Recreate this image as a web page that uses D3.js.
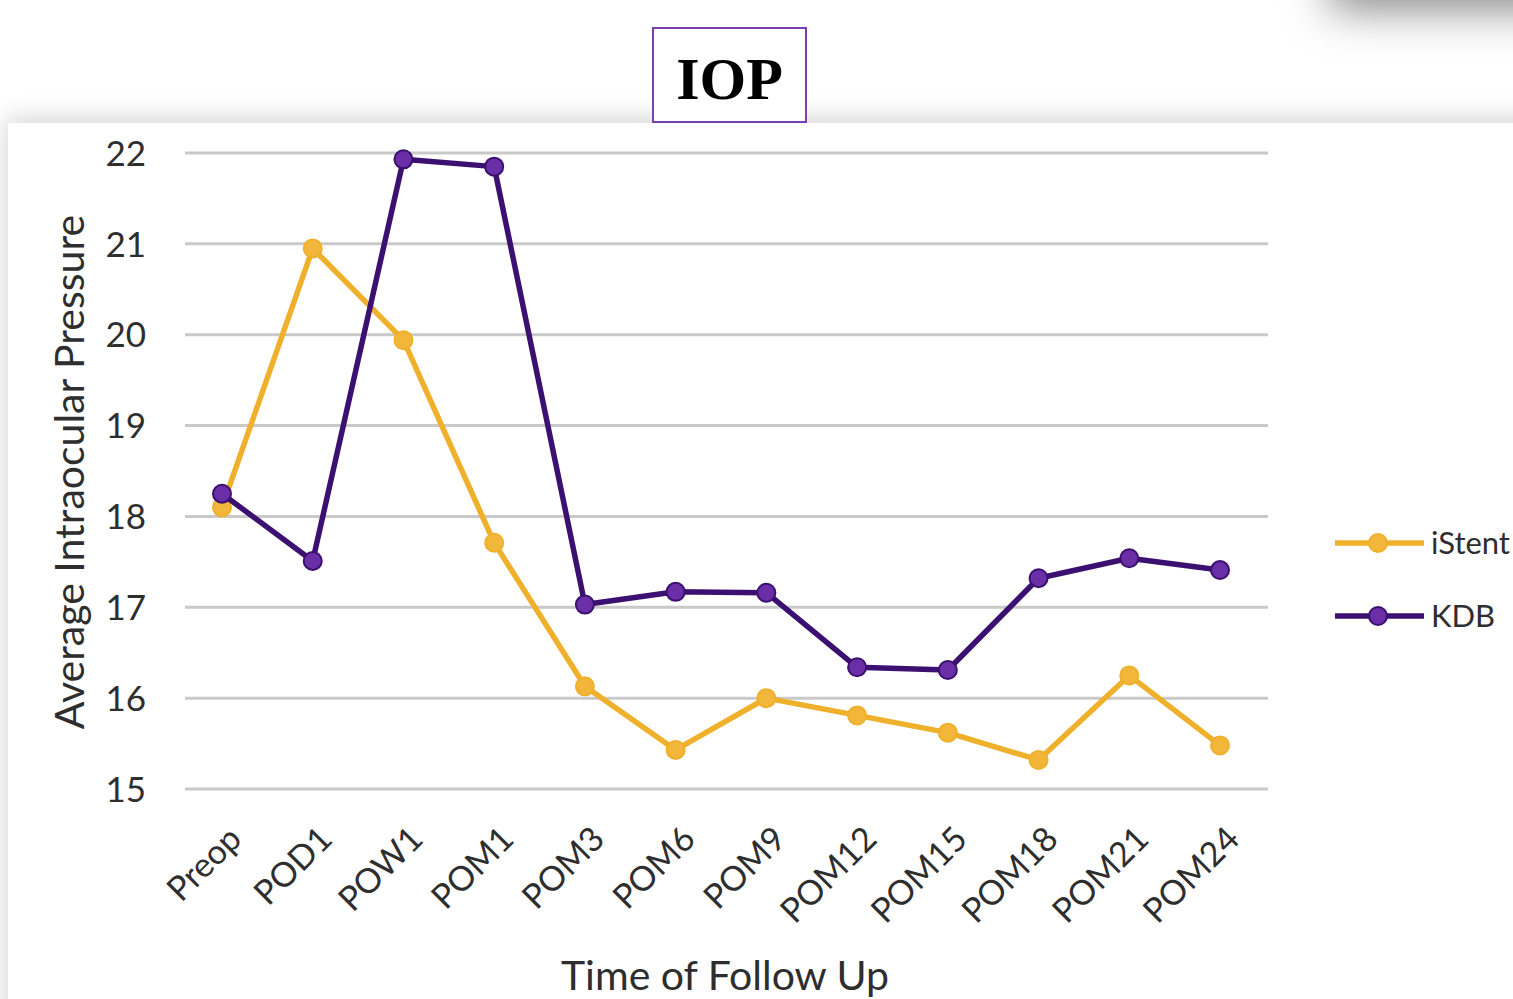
<!DOCTYPE html>
<html>
<head>
<meta charset="utf-8">
<script src="https://cdn.jsdelivr.net/npm/d3@7"></script>
<style>
  html, body { margin: 0; padding: 0; background: #ffffff; overflow: hidden; }
  svg { display: block; }
</style>
</head>
<body>
<svg id="chart" width="1513" height="999"></svg>
<script>
// Follow-up time points
const categories = ["Preop", "POD1", "POW1", "POM1", "POM3", "POM6", "POM9", "POM12", "POM15", "POM18", "POM21", "POM24"];
// Average IOP (mmHg) per group
const istentValues = [18.1, 20.95, 19.94, 17.71, 16.13, 15.43, 16.0, 15.81, 15.62, 15.32, 16.25, 15.48];
const kdbValues    = [18.25, 17.51, 21.93, 21.85, 17.03, 17.17, 17.16, 16.34, 16.31, 17.32, 17.54, 17.41];
const yTicks = [15, 16, 17, 18, 19, 20, 21, 22];
const seriesNames = ["iStent", "KDB"];

const svg = d3.select("#chart");
const defs = svg.append("defs");

const blur = defs.append("filter").attr("id", "soft").attr("x", "-20%").attr("y", "-50%").attr("width", "140%").attr("height", "200%");
blur.append("feGaussianBlur").attr("stdDeviation", 12);

const blur2 = defs.append("filter").attr("id", "soft2").attr("x", "-50%").attr("y", "-50%").attr("width", "200%").attr("height", "200%");
blur2.append("feGaussianBlur").attr("stdDeviation", 22);

// shadow of panel at top right
svg.append("rect").attr("x", 1330).attr("y", -130).attr("width", 400).attr("height", 140)
  .attr("fill", "#8a8a8a").attr("filter", "url(#soft2)");

// chart card with soft shadow
svg.append("rect").attr("x", 6).attr("y", 118).attr("width", 1560).attr("height", 950)
  .attr("fill", "#d6d6d6").attr("filter", "url(#soft)");
svg.append("rect").attr("x", 8).attr("y", 123).attr("width", 1560).attr("height", 950)
  .attr("fill", "#ffffff");

// title box
svg.append("rect").attr("x", 653).attr("y", 28).attr("width", 153).attr("height", 94)
  .attr("fill", "#ffffff").attr("stroke", "#7a3fb0").attr("stroke-width", 2);
svg.append("text").attr("x", 729.5).attr("y", 99)
  .attr("text-anchor", "middle")
  .attr("font-family", "'Liberation Serif', 'Times New Roman', serif")
  .attr("font-weight", "bold").attr("font-size", 60).attr("fill", "#000")
  .text("IOP");

const x = d3.scalePoint().domain(categories).range([222, 1220]);
const y = d3.scaleLinear().domain([15, 22]).range([789, 153]);

const font = "Lato, 'Open Sans', sans-serif";
const textColor = "#2e2e2e";

// gridlines
svg.append("g").selectAll("line").data(yTicks).join("line")
  .attr("x1", 185).attr("x2", 1268)
  .attr("y1", d => y(d)).attr("y2", d => y(d))
  .attr("stroke", "#c9c9c9").attr("stroke-width", 3);

// y axis labels
const yAxis = svg.append("g").attr("transform", "translate(146,0)")
  .call(d3.axisLeft(y).tickValues(yTicks).tickSize(0).tickPadding(0).tickFormat(d3.format("d")));
yAxis.select(".domain").remove();
yAxis.selectAll("text").attr("font-family", font).attr("font-size", 35).attr("fill", textColor).attr("dy", "0.35em");

// x axis labels (rotated)
const xAxis = svg.append("g").attr("transform", "translate(0,789)")
  .call(d3.axisBottom(x).tickSize(0).tickPadding(0));
xAxis.select(".domain").remove();
xAxis.selectAll("text")
  .attr("font-family", font).attr("font-size", 34).attr("fill", textColor)
  .attr("text-anchor", "end").attr("dy", 0).attr("y", 0)
  .attr("transform", "translate(21,52) rotate(-45)");

// axis titles
svg.append("text").attr("transform", "translate(84,472) rotate(-90)")
  .attr("text-anchor", "middle").attr("font-family", font).attr("font-size", 41).attr("fill", textColor)
  .text("Average Intraocular Pressure");
svg.append("text").attr("x", 725).attr("y", 990)
  .attr("text-anchor", "middle").attr("font-family", font).attr("font-size", 41).attr("fill", textColor)
  .text("Time of Follow Up");

const series = [
  { name: seriesNames[0], values: istentValues, line: "#efb02c", fill: "#f2b63a" },
  { name: seriesNames[1], values: kdbValues, line: "#3b1070", fill: "#6a2ea6" }
];

const line = d3.line().x((d, i) => x(categories[i])).y(d => y(d));

series.forEach(s => {
  const g = svg.append("g");
  g.append("path").datum(s.values).attr("d", line)
    .attr("fill", "none").attr("stroke", s.line).attr("stroke-width", 5.5).attr("stroke-linejoin", "round");
  g.selectAll("circle").data(s.values).join("circle")
    .attr("cx", (d, i) => x(categories[i])).attr("cy", d => y(d)).attr("r", 9)
    .attr("fill", s.fill).attr("stroke", s.line).attr("stroke-width", 2);
});

// legend
const legend = svg.append("g");
series.forEach((s, i) => {
  const ly = 543 + i * 73;
  legend.append("line").attr("x1", 1335).attr("x2", 1424).attr("y1", ly).attr("y2", ly)
    .attr("stroke", s.line).attr("stroke-width", 5.5);
  legend.append("circle").attr("cx", 1378).attr("cy", ly).attr("r", 9)
    .attr("fill", s.fill).attr("stroke", s.line).attr("stroke-width", 2);
  legend.append("text").attr("x", 1431).attr("y", ly).attr("dy", "0.36em")
    .attr("font-family", font).attr("font-size", 31).attr("fill", textColor).text(s.name);
});
</script>
</body>
</html>
